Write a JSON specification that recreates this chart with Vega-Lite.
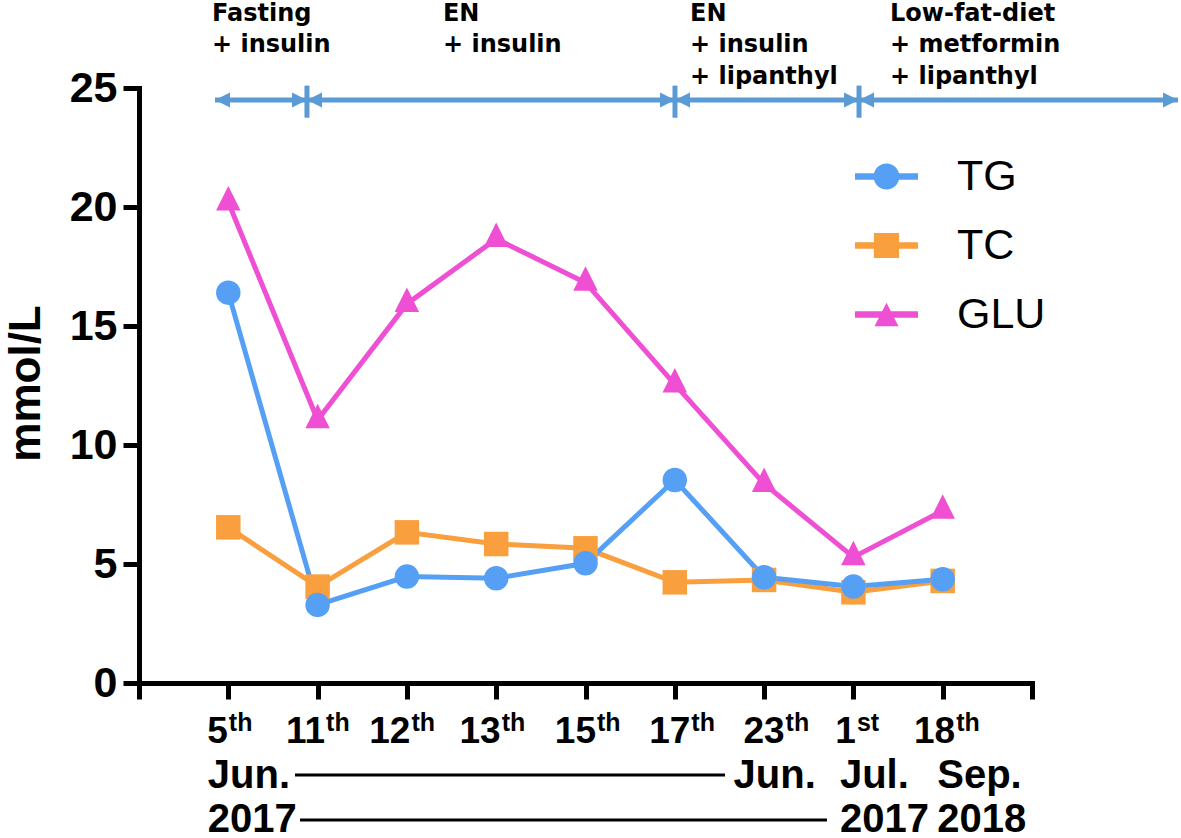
{
  "$schema": "https://vega.github.io/schema/vega-lite/v6.json",
  "width": 893,
  "height": 595,
  "autosize": {"type": "none"},
  "padding": {"left": 139, "top": 88, "right": 149, "bottom": 155},
  "background": "white",
  "config": {
    "view": {"stroke": null},
    "axis": {"grid": false, "domainColor": "black", "tickColor": "black", "labelColor": "black", "titleColor": "black"}
  },
  "datasets": {
    "series": [
      {"idx": 1, "date": "2017-06-05", "series": "GLU", "value": 20.2},
      {"idx": 2, "date": "2017-06-11", "series": "GLU", "value": 11.05},
      {"idx": 3, "date": "2017-06-12", "series": "GLU", "value": 15.93},
      {"idx": 4, "date": "2017-06-13", "series": "GLU", "value": 18.66},
      {"idx": 5, "date": "2017-06-15", "series": "GLU", "value": 16.82},
      {"idx": 6, "date": "2017-06-17", "series": "GLU", "value": 12.55},
      {"idx": 7, "date": "2017-06-23", "series": "GLU", "value": 8.37},
      {"idx": 8, "date": "2017-07-01", "series": "GLU", "value": 5.29},
      {"idx": 9, "date": "2018-09-18", "series": "GLU", "value": 7.24},
      {"idx": 1, "date": "2017-06-05", "series": "TC", "value": 6.54},
      {"idx": 2, "date": "2017-06-11", "series": "TC", "value": 4.05},
      {"idx": 3, "date": "2017-06-12", "series": "TC", "value": 6.33},
      {"idx": 4, "date": "2017-06-13", "series": "TC", "value": 5.84},
      {"idx": 5, "date": "2017-06-15", "series": "TC", "value": 5.66},
      {"idx": 6, "date": "2017-06-17", "series": "TC", "value": 4.23},
      {"idx": 7, "date": "2017-06-23", "series": "TC", "value": 4.33},
      {"idx": 8, "date": "2017-07-01", "series": "TC", "value": 3.81},
      {"idx": 9, "date": "2018-09-18", "series": "TC", "value": 4.29},
      {"idx": 1, "date": "2017-06-05", "series": "TG", "value": 16.4},
      {"idx": 2, "date": "2017-06-11", "series": "TG", "value": 3.28},
      {"idx": 3, "date": "2017-06-12", "series": "TG", "value": 4.47},
      {"idx": 4, "date": "2017-06-13", "series": "TG", "value": 4.4},
      {"idx": 5, "date": "2017-06-15", "series": "TG", "value": 5.03},
      {"idx": 6, "date": "2017-06-17", "series": "TG", "value": 8.53},
      {"idx": 7, "date": "2017-06-23", "series": "TG", "value": 4.44},
      {"idx": 8, "date": "2017-07-01", "series": "TG", "value": 4.05},
      {"idx": 9, "date": "2018-09-18", "series": "TG", "value": 4.36}
    ],
    "phases": [
      {"phase": 1, "treatment": ["Fasting", "+ insulin"], "start": 0.851, "end": 1.881, "labelX": 0.817},
      {"phase": 2, "treatment": ["EN", "+ insulin"], "start": 1.881, "end": 6.002, "labelX": 3.404},
      {"phase": 3, "treatment": ["EN", "+ insulin", "+ lipanthyl"], "start": 6.002, "end": 8.063, "labelX": 6.17},
      {"phase": 4, "treatment": ["Low-fat-diet", " + metformin", " + lipanthyl"], "start": 8.063, "end": 11.635, "labelX": 8.41}
    ]
  },
  "layer": [
    {
      "data": {"name": "series"},
      "mark": {"type": "point", "filled": true, "size": 600, "opacity": 0, "strokeWidth": 0},
      "encoding": {
        "x": {"field": "idx", "type": "quantitative", "scale": {"domain": [0, 10], "nice": false, "zero": false}, "axis": null},
        "y": {"field": "value", "type": "quantitative", "scale": {"domain": [0, 25], "nice": false, "zero": false}},
        "color": {
          "field": "series", "type": "nominal",
          "scale": {"domain": ["TG", "TC", "GLU"], "range": ["#55A0F5", "#F99F3E", "#EF4FD3"]},
          "legend": {
            "title": null, "orient": "none", "legendX": 716, "legendY": 57, "padding": 0,
            "symbolSize": 3969, "symbolStrokeWidth": 0, "symbolOpacity": 1,
            "labelFont": "Liberation Sans", "labelFontSize": 43, "labelFontWeight": "normal", "labelColor": "black",
            "labelOffset": 39, "rowPadding": 15
          }
        },
        "shape": {
          "field": "series", "type": "nominal",
          "scale": {"domain": ["TG", "TC", "GLU"], "range": [
            "M-1,-0.1H1V0.1H-1Z M0.41,0A0.41,0.41,0,1,1,-0.41,0A0.41,0.41,0,1,1,0.41,0Z",
            "M-1,-0.1H1V0.1H-1Z M-0.4,-0.4H0.4V0.4H-0.4Z",
            "M-1,-0.1H1V0.1H-1Z M0,-0.37L0.38,0.37H-0.38Z"
          ]},
          "legend": {
            "title": null, "orient": "none", "legendX": 716, "legendY": 57, "padding": 0,
            "symbolSize": 3969, "symbolStrokeWidth": 0, "symbolOpacity": 1,
            "labelFont": "Liberation Sans", "labelFontSize": 43, "labelFontWeight": "normal", "labelColor": "black",
            "labelOffset": 39, "rowPadding": 15
          }
        }
      }
    },
    {
      "data": {"name": "series"},
      "mark": {"type": "line", "strokeWidth": 5},
      "encoding": {
        "x": {
          "field": "idx", "type": "quantitative",
          "scale": {"domain": [0, 10], "nice": false, "zero": false},
          "axis": {
            "orient": "bottom", "values": [0, 1, 2, 3, 4, 5, 6, 7, 8, 9, 10], "title": null,
            "domainWidth": 5, "domainCap": "square", "tickSize": 16, "tickWidth": 5,
            "labelExpr": "['','5','11','12','13','15','17','23','1','18',''][datum.value]",
            "labelFont": "Liberation Sans", "labelFontSize": 37, "labelFontWeight": "bold",
            "labelAlign": "right", "labelBaseline": "top", "labelPadding": 14,
            "labelOffset": {"expr": "[0,-1,7,3,4,10,15,20,2,12,0][datum.value]"},
            "labelOverlap": false, "labelFlush": false, "labelBound": false
          }
        },
        "y": {
          "field": "value", "type": "quantitative",
          "scale": {"domain": [0, 25], "nice": false, "zero": false},
          "axis": {
            "orient": "left", "values": [0, 5, 10, 15, 20, 25], "title": "mmol/L",
            "titleFont": "Liberation Sans", "titleFontSize": 44, "titleFontWeight": "bold",
            "titleX": -113, "titleY": 295, "titleAngle": -90, "titleAlign": "center", "titleBaseline": "middle",
            "domainWidth": 5, "domainCap": "square", "tickSize": 16, "tickWidth": 5,
            "labelFont": "Liberation Sans", "labelFontSize": 43, "labelFontWeight": "bold",
            "labelPadding": 6, "labelOverlap": false, "labelFlush": false, "labelBound": false
          }
        },
        "color": {
          "field": "series", "type": "nominal",
          "scale": {"domain": ["TG", "TC", "GLU"], "range": ["#55A0F5", "#F99F3E", "#EF4FD3"]}
        }
      }
    },
    {
      "data": {"name": "series"},
      "transform": [{"filter": "datum.series === 'TC'"}],
      "mark": {"type": "point", "filled": true, "size": 600, "opacity": 1, "strokeWidth": 0, "shape": "square"},
      "encoding": {
        "x": {"field": "idx", "type": "quantitative", "scale": {"domain": [0, 10], "nice": false, "zero": false}, "axis": null},
        "y": {"field": "value", "type": "quantitative", "scale": {"domain": [0, 25], "nice": false, "zero": false}},
        "color": {"field": "series", "type": "nominal", "scale": {"domain": ["TG", "TC", "GLU"], "range": ["#55A0F5", "#F99F3E", "#EF4FD3"]}}
      }
    },
    {
      "data": {"name": "series"},
      "transform": [{"filter": "datum.series === 'GLU'"}],
      "mark": {"type": "point", "filled": true, "size": 600, "opacity": 1, "strokeWidth": 0, "shape": "M0,-1.333L1,0.667L-1,0.667Z"},
      "encoding": {
        "x": {"field": "idx", "type": "quantitative", "scale": {"domain": [0, 10], "nice": false, "zero": false}, "axis": null},
        "y": {"field": "value", "type": "quantitative", "scale": {"domain": [0, 25], "nice": false, "zero": false}},
        "color": {"field": "series", "type": "nominal", "scale": {"domain": ["TG", "TC", "GLU"], "range": ["#55A0F5", "#F99F3E", "#EF4FD3"]}}
      }
    },
    {
      "data": {"name": "series"},
      "transform": [{"filter": "datum.series === 'TG'"}],
      "mark": {"type": "point", "filled": true, "size": 600, "opacity": 1, "strokeWidth": 0, "shape": "circle"},
      "encoding": {
        "x": {
          "field": "idx", "type": "quantitative",
          "scale": {"domain": [0, 10], "nice": false, "zero": false},
          "axis": {
            "orient": "bottom", "values": [0, 1, 2, 3, 4, 5, 6, 7, 8, 9, 10], "title": null,
            "domain": false, "ticks": false,
            "labelExpr": "['','th','th','th','th','th','th','th','st','th',''][datum.value]",
            "labelFont": "Liberation Sans", "labelFontSize": 25, "labelFontWeight": "bold",
            "labelAlign": "left", "labelBaseline": "top", "labelPadding": 27,
            "labelOffset": {"expr": "[0,0,8,4,5,11,16,21,3,13,0][datum.value]"},
            "labelOverlap": false, "labelFlush": false, "labelBound": false
          }
        },
        "y": {"field": "value", "type": "quantitative", "scale": {"domain": [0, 25], "nice": false, "zero": false}},
        "color": {"field": "series", "type": "nominal", "scale": {"domain": ["TG", "TC", "GLU"], "range": ["#55A0F5", "#F99F3E", "#EF4FD3"]}}
      }
    },
    {
      "data": {"name": "phases"},
      "mark": {"type": "rule", "strokeWidth": 5, "color": "#5B9BD5"},
      "encoding": {
        "x": {"field": "start", "type": "quantitative", "scale": {"domain": [0, 10], "nice": false, "zero": false}, "axis": null},
        "x2": {"field": "end"},
        "y": {"datum": 24.5, "type": "quantitative", "scale": {"domain": [0, 25], "nice": false, "zero": false}}
      }
    },
    {
      "data": {"name": "phases"},
      "transform": [{"filter": "datum.start > 1"}],
      "mark": {"type": "rule", "strokeWidth": 5, "color": "#5B9BD5"},
      "encoding": {
        "x": {"field": "start", "type": "quantitative", "scale": {"domain": [0, 10], "nice": false, "zero": false}, "axis": null},
        "y": {"datum": 25.1, "type": "quantitative", "scale": {"domain": [0, 25], "nice": false, "zero": false}},
        "y2": {"datum": 23.75}
      }
    },
    {
      "data": {"name": "phases"},
      "mark": {"type": "point", "filled": true, "size": 225, "opacity": 1, "strokeWidth": 0, "color": "#5B9BD5", "shape": "M0,0L2,-1L2,1Z"},
      "encoding": {
        "x": {"field": "start", "type": "quantitative", "scale": {"domain": [0, 10], "nice": false, "zero": false}, "axis": null},
        "y": {"datum": 24.5, "type": "quantitative", "scale": {"domain": [0, 25], "nice": false, "zero": false}}
      }
    },
    {
      "data": {"name": "phases"},
      "mark": {"type": "point", "filled": true, "size": 225, "opacity": 1, "strokeWidth": 0, "color": "#5B9BD5", "shape": "M0,0L-2,-1L-2,1Z"},
      "encoding": {
        "x": {"field": "end", "type": "quantitative", "scale": {"domain": [0, 10], "nice": false, "zero": false}, "axis": null},
        "y": {"datum": 24.5, "type": "quantitative", "scale": {"domain": [0, 25], "nice": false, "zero": false}}
      }
    },
    {
      "data": {"name": "phases"},
      "mark": {"type": "text", "align": "left", "baseline": "alphabetic", "font": "DejaVu Sans", "fontSize": 24, "fontWeight": "bold", "lineHeight": 31.5, "color": "black"},
      "encoding": {
        "x": {"field": "labelX", "type": "quantitative", "scale": {"domain": [0, 10], "nice": false, "zero": false}, "axis": null},
        "y": {"datum": 27.82, "type": "quantitative", "scale": {"domain": [0, 25], "nice": false, "zero": false}},
        "text": {"field": "treatment", "type": "nominal"}
      }
    },
    {
      "data": {"values": [{}]},
      "mark": {"type": "rule", "strokeWidth": 3, "color": "black"},
      "encoding": {
        "x": {
          "datum": 1.747, "type": "quantitative", "scale": {"domain": [0, 10], "nice": false, "zero": false},
          "axis": {
            "orient": "bottom", "values": [1, 7, 8, 9], "title": null, "domain": false, "ticks": false,
            "labelExpr": "datum.value == 1 ? ['Jun.','2017'] : datum.value == 7 ? 'Jun.' : datum.value == 8 ? ['Jul.','2017'] : ['Sep.','2018']",
            "labelFont": "Liberation Sans", "labelFontSize": 40, "labelFontWeight": "bold",
            "labelAlign": "left", "labelBaseline": "top", "labelLineHeight": 44, "labelPadding": 72,
            "labelOffset": {"expr": "datum.value == 1 ? -21 : datum.value == 7 ? -31 : datum.value == 8 ? -14 : -6"},
            "labelOverlap": false, "labelFlush": false, "labelBound": false
          }
        },
        "x2": {"datum": 6.562},
        "y": {"datum": -3.866, "type": "quantitative", "scale": {"domain": [0, 25], "nice": false, "zero": false}}
      }
    },
    {
      "data": {"values": [{}]},
      "mark": {"type": "rule", "strokeWidth": 3, "color": "black"},
      "encoding": {
        "x": {"datum": 1.803, "type": "quantitative", "scale": {"domain": [0, 10], "nice": false, "zero": false}, "axis": null},
        "x2": {"datum": 7.704},
        "y": {"datum": -5.756, "type": "quantitative", "scale": {"domain": [0, 25], "nice": false, "zero": false}}
      }
    }
  ],
  "resolve": {"axis": {"x": "independent"}}
}
